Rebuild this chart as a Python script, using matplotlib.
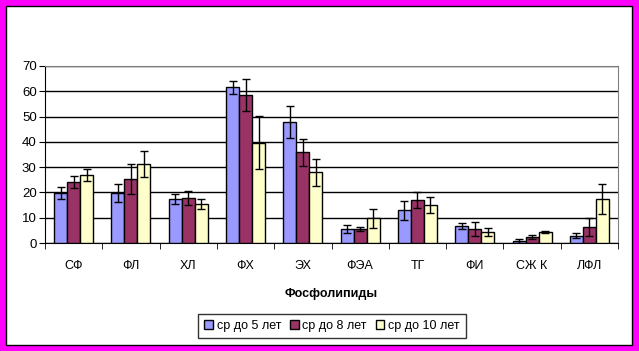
import numpy as np
import matplotlib
matplotlib.use("Agg")
import matplotlib.pyplot as plt
from matplotlib.patches import Rectangle

plt.rcParams['font.family'] = ['Liberation Sans', 'DejaVu Sans']

categories = ['СФ', 'ФЛ', 'ХЛ', 'ФХ', 'ЭХ', 'ФЭА', 'ТГ', 'ФИ', 'СЖ К', 'ЛФЛ']
series_names = ['ср до 5 лет', 'ср до 8 лет', 'ср до 10 лет']

val5 = [19.7, 19.7, 17.4, 61.6, 47.8, 5.5, 13.0, 6.7, 0.8, 2.8]
val8 = [24.1, 25.4, 17.8, 58.4, 35.9, 5.5, 17.0, 5.5, 2.4, 6.2]
val10 = [26.8, 31.2, 15.4, 39.7, 28.0, 9.7, 15.0, 4.3, 4.3, 17.4]

err5 = [2.4, 3.6, 2.0, 2.6, 6.2, 1.6, 3.8, 1.1, 0.8, 1.0]
err8 = [2.2, 6.0, 2.6, 6.3, 5.3, 0.7, 3.3, 2.9, 0.7, 3.5]
err10 = [2.3, 5.2, 2.1, 10.6, 5.4, 3.7, 3.0, 1.7, 0.5, 5.8]

colors = ['#9999FF', '#993366', '#FFFFCC']

fig = plt.figure(figsize=(6.39, 3.51), dpi=100)
fig.patch.set_facecolor('#FF00FF')
fig.patches.append(Rectangle((6 / 639, 6 / 351), 626 / 639, 339 / 351,
                             transform=fig.transFigure, facecolor='white',
                             edgecolor='black', linewidth=1, zorder=-10))

ax = fig.add_axes([45 / 639, 108 / 351, 573 / 639, 177 / 351])
ax.set_facecolor('white')

x = np.arange(len(categories))
w = 0.227
vals = [val5, val8, val10]
errs = [err5, err8, err10]
for i in range(3):
    ax.bar(x + (i - 1) * w, vals[i], w, color=colors[i], edgecolor='black',
           linewidth=1, label=series_names[i], zorder=3,
           yerr=errs[i], capsize=3,
           error_kw=dict(ecolor='black', elinewidth=1, capthick=1, zorder=4))

ax.set_xlim(-0.5, len(categories) - 0.5)
ax.set_ylim(0, 70)
ax.set_yticks(range(0, 71, 10))
ax.yaxis.grid(True, color='black', linewidth=1, zorder=1)
ax.set_axisbelow(True)

ax.set_xticks(x)
ax.set_xticklabels(categories, fontsize=9)
ax.set_xticks(np.arange(-0.5, len(categories), 1), minor=True)
ax.tick_params(axis='x', which='major', length=0, pad=12)
ax.tick_params(axis='x', which='minor', length=4, direction='out', color='black')
ax.tick_params(axis='y', length=4, direction='out', labelsize=9.5, pad=2)

for s in ['top', 'right']:
    ax.spines[s].set_color('#808080')
ax.spines['left'].set_color('black')
ax.spines['bottom'].set_color('black')

ax.set_xlabel('Фосфолипиды', fontsize=9, fontweight='bold', labelpad=12)

leg = fig.legend(loc='center', bbox_to_anchor=(332 / 639, (351 - 326) / 351),
                 ncol=3, fontsize=9, frameon=True, fancybox=False,
                 edgecolor='black', handlelength=0.7, handleheight=0.7,
                 handletextpad=0.3, columnspacing=0.7, borderpad=0.5)
leg.get_frame().set_linewidth(1)

fig.savefig('out.png', dpi=100, facecolor=fig.get_facecolor())
